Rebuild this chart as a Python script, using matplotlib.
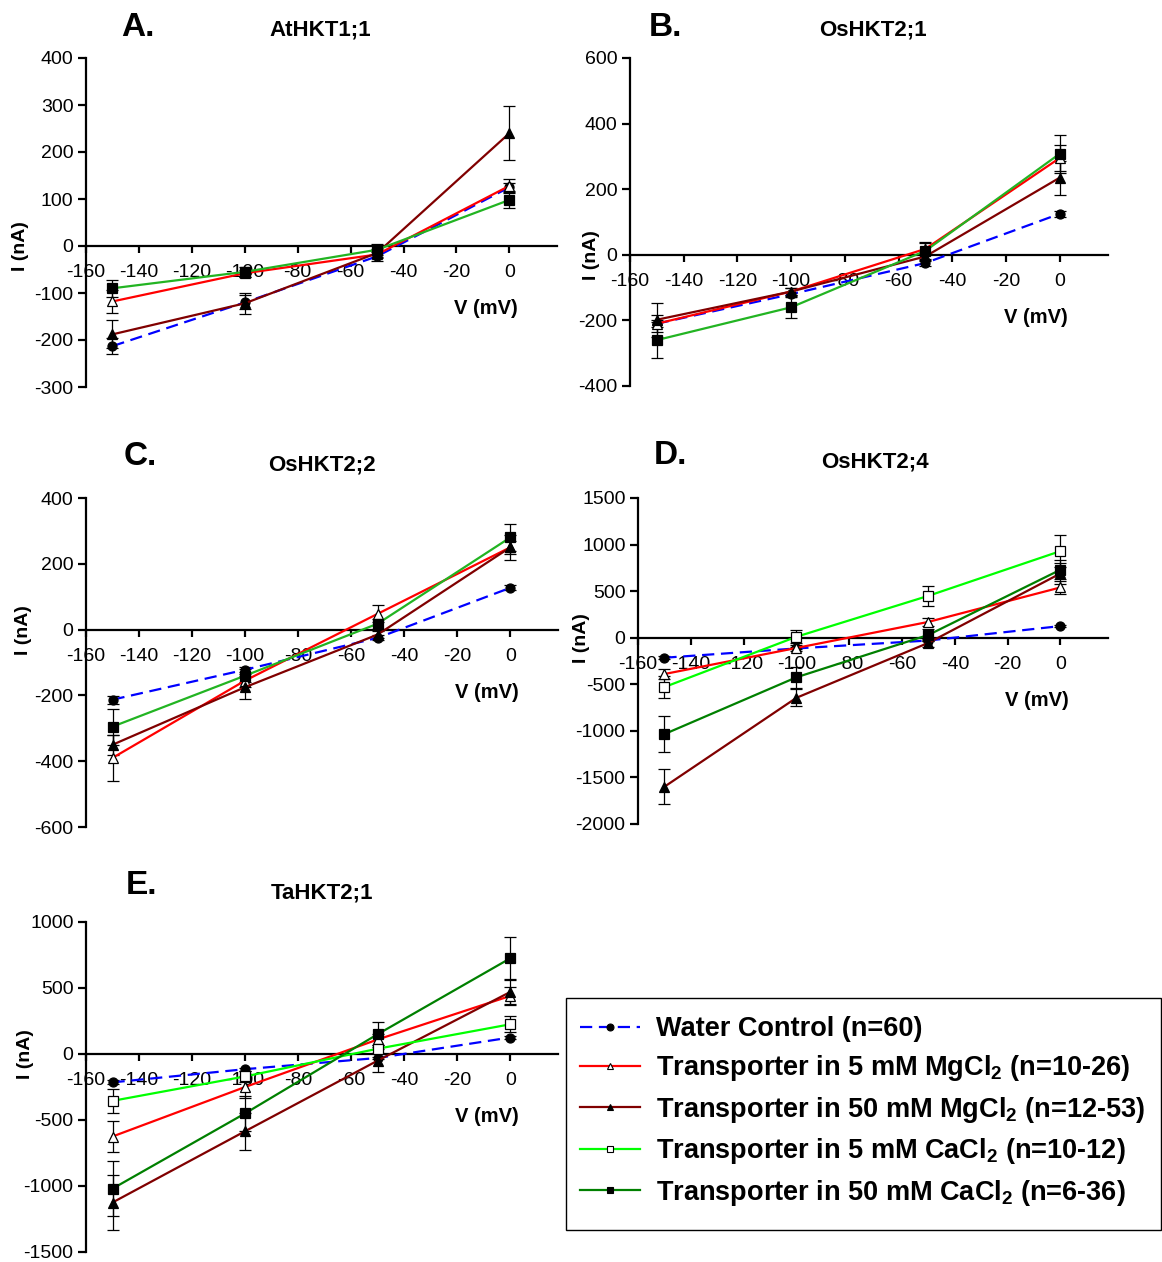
import matplotlib
matplotlib.use("Agg")
import matplotlib.pyplot as plt
from matplotlib.patches import Rectangle
from matplotlib.lines import Line2D

plt.rcParams['font.family'] = ['Liberation Sans', 'DejaVu Sans']
plt.rcParams['axes.unicode_minus'] = False
plt.rcParams['mathtext.fontset'] = 'custom'
plt.rcParams['mathtext.rm'] = 'Liberation Sans:bold'
plt.rcParams['mathtext.it'] = 'Liberation Sans:bold'
plt.rcParams['mathtext.bf'] = 'Liberation Sans:bold'

W, H = 1162, 1262

# Holding potentials (mV)
voltage = [-150, -100, -50, 0]
x_ticks = [-160, -140, -120, -100, -80, -60, -40, -20, 0]

# ---- A. AtHKT1;1 ----
a_water = [-213, -120, -22, 125]
a_water_err = [17, 15, 10, 8]
a_mg5 = [-118, -58, -18, 128]
a_mg5_err = [24, 8, 8, 15]
a_mg50 = [-188, -122, -15, 240]
a_mg50_err = [30, 23, 8, 57]
a_ca = [-90, -55, -8, 98]
a_ca_err = [18, 10, 12, 17]
a_yticks = [400, 300, 200, 100, 0, -100, -200, -300]

# ---- B. OsHKT2;1 ----
b_water = [-210, -120, -25, 125]
b_water_err = [10, 8, 8, 10]
b_mg5 = [-210, -112, 18, 295]
b_mg5_err = [25, 10, 20, 40]
b_mg50 = [-198, -112, -5, 235]
b_mg50_err = [52, 12, 15, 52]
b_ca = [-260, -160, 12, 308]
b_ca_err = [54, 33, 25, 58]
b_yticks = [600, 400, 200, 0, -200, -400]

# ---- C. OsHKT2;2 ----
c_water = [-213, -122, -25, 127]
c_water_err = [12, 8, 8, 8]
c_mg5 = [-390, -155, 48, 250]
c_mg5_err = [69, 20, 26, 20]
c_mg50 = [-350, -175, -15, 250]
c_mg50_err = [30, 35, 10, 38]
c_ca = [-295, -140, 18, 280]
c_ca_err = [55, 20, 15, 42]
c_yticks = [400, 200, 0, -200, -400, -600]

# ---- D. OsHKT2;4 ----
d_water = [-215, -115, -30, 125]
d_water_err = [15, 10, 10, 10]
d_mg5 = [-390, -110, 170, 540]
d_mg5_err = [50, 30, 40, 70]
d_mg50 = [-1600, -645, -55, 690]
d_mg50_err = [190, 90, 40, 110]
d_ca5 = [-530, 10, 450, 930]
d_ca5_err = [120, 70, 107, 175]
d_ca50 = [-1035, -425, 30, 730]
d_ca50_err = [190, 110, 60, 100]
d_yticks = [1500, 1000, 500, 0, -500, -1000, -1500, -2000]

# ---- E. TaHKT2;1 ----
e_water = [-215, -115, -30, 125]
e_water_err = [15, 10, 10, 10]
e_mg5 = [-625, -250, 110, 440]
e_mg5_err = [120, 80, 40, 70]
e_mg50 = [-1125, -585, -50, 470]
e_mg50_err = [210, 140, 90, 90]
e_ca5 = [-355, -170, 40, 225]
e_ca5_err = [90, 40, 30, 60]
e_ca50 = [-1020, -450, 150, 725]
e_ca50_err = [210, 130, 95, 160]
e_yticks = [1000, 500, 0, -500, -1000, -1500]

legend_labels = [
    "Water Control (n=60)",
    r"Transporter in 5 mM MgCl$_2$ (n=10-26)",
    r"Transporter in 50 mM MgCl$_2$ (n=12-53)",
    r"Transporter in 5 mM CaCl$_2$ (n=10-12)",
    r"Transporter in 50 mM CaCl$_2$ (n=6-36)",
]

# series styles: (line colour, marker, marker face, linestyle)
STY = {
    'water': ('#0000ff', 'o', 'black', (0, (5.5, 3))),
    'mg5': ('#ff0000', '^', 'white', '-'),
    'mg50': ('#800000', '^', 'black', '-'),
    'ca5': ('#00ff00', 's', 'white', '-'),
    'ca50': ('#008000', 's', 'black', '-'),
    'ca': ('#22b422', 's', 'black', '-'),
}


def fr(x, y):
    return x / W, 1 - y / H


fig = plt.figure(figsize=(W / 100, H / 100), dpi=100)


def make_panel(rect_px, ylim, yticks, series, letter, title, letter_px, title_px, ylab_dx):
    left, top, right, bottom = rect_px
    ax = fig.add_axes([left / W, 1 - bottom / H, (right - left) / W, (bottom - top) / H])
    for key, y, err in series:
        col, mk, mfc, ls = STY[key]
        ax.errorbar(voltage, y, yerr=err, color=col, lw=1.6, ls=ls, marker=mk,
                    ms=6.5, mfc=mfc, mec='black', mew=0.9, ecolor='black',
                    elinewidth=0.9, capsize=4, capthick=0.9, zorder=3)
    ax.set_xlim(-160, 18)
    ax.set_ylim(*ylim)
    ax.set_xticks(x_ticks)
    ax.set_yticks(yticks)
    ax.spines['top'].set_visible(False)
    ax.spines['right'].set_visible(False)
    ax.spines['bottom'].set_position(('data', 0))
    ax.spines['left'].set_linewidth(1.6)
    ax.spines['bottom'].set_linewidth(1.6)
    ax.tick_params(axis='y', direction='out', length=6, width=1.6, labelsize=14, pad=3)
    ax.tick_params(axis='x', direction='out', length=5, width=1.6, labelsize=14, pad=8)
    ax.annotate('I (nA)', xy=(0, 0), xycoords=('axes fraction', 'data'),
                xytext=(-ylab_dx * 0.72, 0), textcoords='offset points',
                rotation=90, ha='center', va='center', fontsize=14, fontweight='bold')
    ax.annotate('V (mV)', xy=(-9, 0), xycoords='data', xytext=(0, -63 * 0.72),
                textcoords='offset points', ha='center', va='center',
                fontsize=14.5, fontweight='bold')
    fig.text(*fr(*letter_px), letter, ha='center', va='center', fontsize=24, fontweight='bold')
    fig.text(*fr(*title_px), title, ha='center', va='center', fontsize=16, fontweight='bold')
    return ax


make_panel((86, 58, 557, 387), (-300, 400), a_yticks,
           [('water', a_water, a_water_err), ('mg5', a_mg5, a_mg5_err),
            ('mg50', a_mg50, a_mg50_err), ('ca', a_ca, a_ca_err)],
           'A.', 'AtHKT1;1', (138, 28), (320, 30), 66)

make_panel((630, 58, 1108, 386), (-400, 600), b_yticks,
           [('water', b_water, b_water_err), ('mg5', b_mg5, b_mg5_err),
            ('mg50', b_mg50, b_mg50_err), ('ca', b_ca, b_ca_err)],
           'B.', 'OsHKT2;1', (665, 28), (873, 30), 39)

make_panel((86, 498, 558, 827), (-600, 400), c_yticks,
           [('water', c_water, c_water_err), ('mg5', c_mg5, c_mg5_err),
            ('mg50', c_mg50, c_mg50_err), ('ca', c_ca, c_ca_err)],
           'C.', 'OsHKT2;2', (140, 457), (322, 465), 63)

make_panel((638, 498, 1108, 824), (-2000, 1500), d_yticks,
           [('water', d_water, d_water_err), ('mg5', d_mg5, d_mg5_err),
            ('mg50', d_mg50, d_mg50_err), ('ca5', d_ca5, d_ca5_err),
            ('ca50', d_ca50, d_ca50_err)],
           'D.', 'OsHKT2;4', (670, 455), (875, 462), 57)

make_panel((86, 922, 558, 1252), (-1500, 1000), e_yticks,
           [('water', e_water, e_water_err), ('mg5', e_mg5, e_mg5_err),
            ('mg50', e_mg50, e_mg50_err), ('ca5', e_ca5, e_ca5_err),
            ('ca50', e_ca50, e_ca50_err)],
           'E.', 'TaHKT2;1', (142, 886), (322, 893), 61)

# Shared legend in its own box
x0, y0 = fr(566, 1230)
x1, y1 = fr(1161, 998)
fig.patches.append(Rectangle((x0, y0), x1 - x0, y1 - y0, transform=fig.transFigure,
                             fill=False, edgecolor='black', lw=1.0))
handles = []
for key in ['water', 'mg5', 'mg50', 'ca5', 'ca50']:
    col, mk, mfc, ls = STY[key]
    handles.append(Line2D([], [], color=col, lw=1.6, ls=ls, marker=mk, ms=5,
                          mfc=mfc, mec='black', mew=0.8))
fig.legend(handles, legend_labels, loc='upper left', bbox_to_anchor=fr(580, 1016),
           frameon=False, prop={'size': 19.5, 'weight': 'bold'}, handlelength=2.2,
           handletextpad=0.62, labelspacing=0.42, borderpad=0, borderaxespad=0)

fig.savefig('out.png', dpi=100)
